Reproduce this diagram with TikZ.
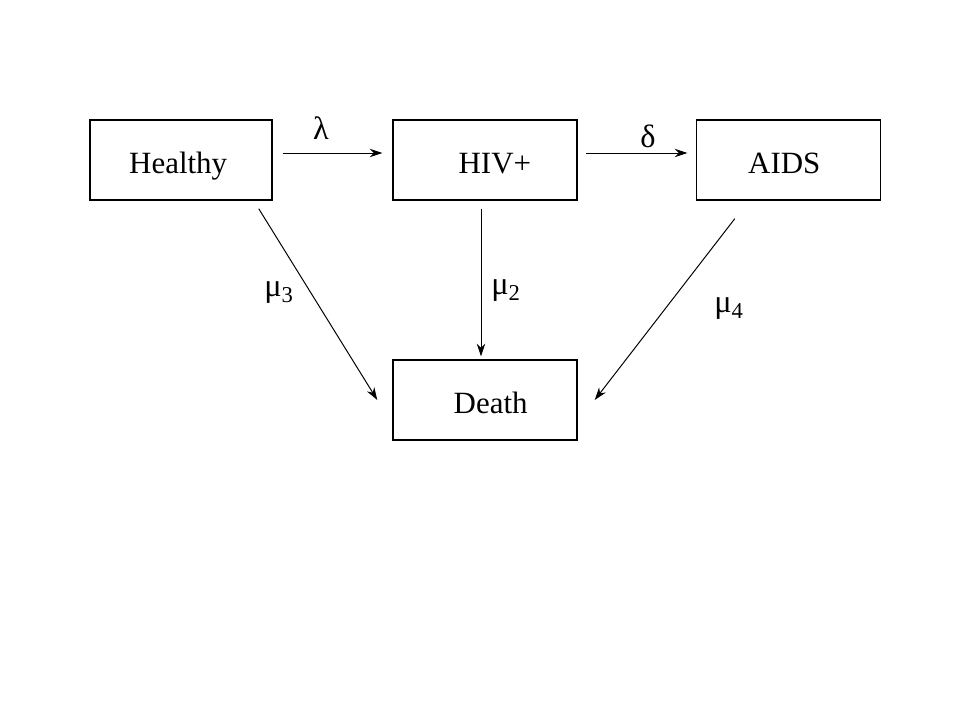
\documentclass[tikz,border=0pt]{standalone}
\usepackage{fontspec}
\setmainfont{Liberation Serif}
\usetikzlibrary{arrows.meta,calc}

\begin{document}
\begin{tikzpicture}[x=0.025cm,y=-0.025cm,
    state/.style={draw,line width=1pt,minimum width=4.55cm,minimum height=2cm,inner sep=0pt,
      text height=19pt,text depth=0.5pt,font=\fontsize{22}{26}\selectfont},
    rate/.style={font=\fontsize{23}{27}\selectfont},
    flow/.style={line width=0.7pt,-{Stealth[length=9pt,width=6pt]}}]
\useasboundingbox (0,0) rectangle (960,720);
% compartments
\node[state] (healthy) at (181,160) {\hspace{-4pt}Healthy};
\node[state,minimum width=4.6cm] (hiv) at (485,160) {\hspace{14pt}HIV+};
\node[state,minimum width=4.6cm] (aids) at (788.5,160) {\hspace{-6pt}AIDS};
\node[state,minimum width=4.6cm] (death) at (485,400) {\hspace{8pt}Death};
% transitions
\draw[flow,shorten <=7pt,shorten >=7pt] ($(healthy.east)+(0,-7)$) -- ($(hiv.west)+(0,-7)$);
\draw[flow,shorten <=6pt,shorten >=6pt] ($(hiv.east)+(0,-7)$) -- ($(aids.west)+(0,-7)$);
\draw[flow] ($(healthy.south east)+(-14,8)$) -- ($(death.west)+(-15,0)$);
\draw[flow] ($(hiv.south)+(-4,8)$) -- ($(death.north)+(-4,-3)$);
\draw[flow] ($(aids.south west)+(39,18)$) -- ($(death.east)+(17,0)$);
% rates
\node[rate] (lambda) at (321,128) {λ};
\node[rate] (delta) at (648,136) {δ};
\node[rate] (mu3) at (279,293) {μ\textsubscript{3}};
\node[rate] (mu2) at (506,291) {μ\textsubscript{2}};
\node[rate] (mu4) at (729,309) {μ\textsubscript{4}};
\end{tikzpicture}
\end{document}
